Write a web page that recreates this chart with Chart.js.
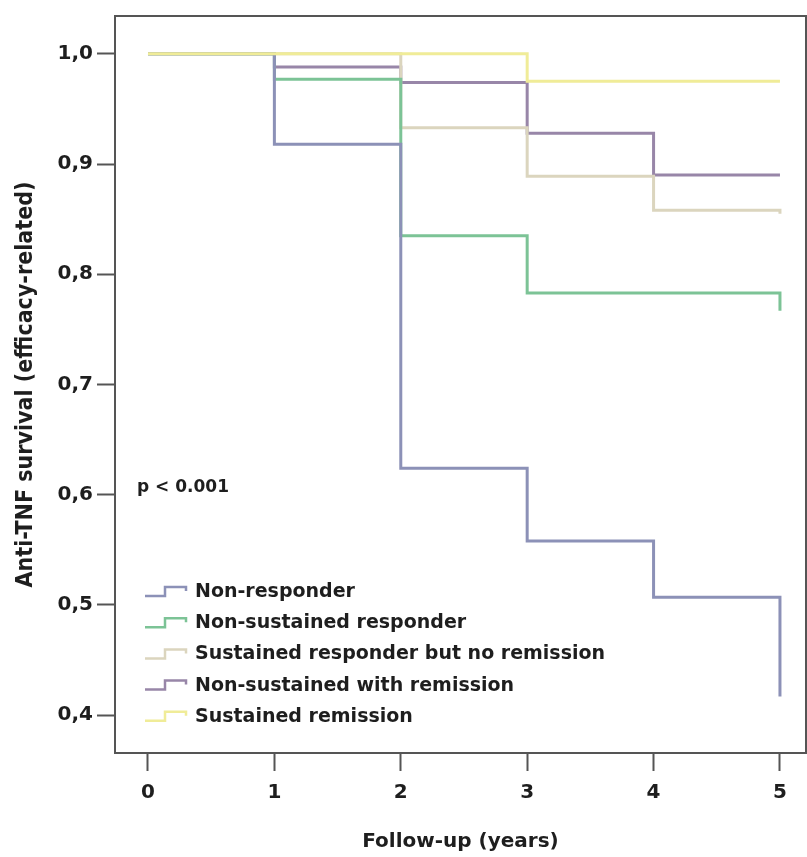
<!DOCTYPE html>
<html>
<head>
<meta charset="utf-8">
<script src="https://cdn.jsdelivr.net/npm/chart.js@4"></script>
<style>
  body { margin: 0; background: #fff; }
  #wrap { width: 807px; height: 857px; }
</style>
</head>
<body>
<div id="wrap"><canvas id="km" width="807" height="857"></canvas></div>
<script>
// follow-up years and survival after each yearly step
var years = [0, 1, 2, 3, 4, 5]
var groups = ['Non-responder', 'Non-sustained responder', 'Sustained responder but no remission', 'Non-sustained with remission', 'Sustained remission']
var nonResponder = [1, 0.918, 0.624, 0.558, 0.507, 0.417]
var nonSustResponder = [1, 0.977, 0.835, 0.783, 0.783, 0.767]
var sustNoRemission = [1, 1, 0.933, 0.889, 0.858, 0.855]
var nonSustRemission = [1, 0.988, 0.974, 0.928, 0.890, 0.890]
var sustRemission = [1, 1, 1, 0.975, 0.975, 0.975]
var yTicks = [0.4, 0.5, 0.6, 0.7, 0.8, 0.9, 1.0]
var xTicks = [0, 1, 2, 3, 4, 5]

var colores = ['#8c91b7', '#7cc396', '#dbd5be', '#9886a8', '#f0ec98']
var series = [nonResponder, nonSustResponder, sustNoRemission, nonSustRemission, sustRemission]

function pontos(vals) {
  return years.map(function(a, i) { return { x: a, y: vals[i] } })
}

var datasets = series.map(function(s, i) {
  return {
    label: groups[i],
    data: pontos(s),
    borderColor: colores[i],
    borderWidth: 3,
    pointRadius: 0,
    stepped: true,
    fill: false,
    order: i == 4 ? 0 : 1
  }
})

var txt = '#1e1e1e'
var eixo = '#555555'

// frame + legenda dentro do grafico
var extras = {
  id: 'extras',
  afterDraw: function(chart) {
    var ctx = chart.ctx
    var a = chart.chartArea
    ctx.save()
    ctx.strokeStyle = eixo
    ctx.lineWidth = 2
    ctx.beginPath()
    ctx.moveTo(a.left, a.top)
    ctx.lineTo(a.right, a.top)
    ctx.lineTo(a.right, a.bottom)
    ctx.stroke()

    ctx.fillStyle = txt
    ctx.font = 'bold 17px "DejaVu Sans"'
    ctx.textBaseline = 'middle'
    ctx.fillText('p < 0.001', 137, 488)

    ctx.font = 'bold 19px "DejaVu Sans"'
    for (var i = 0; i < groups.length; i++) {
      var cy = 592 + i * 31.2
      ctx.strokeStyle = colores[i]
      ctx.lineWidth = 2.5
      ctx.beginPath()
      ctx.moveTo(145, cy + 4)
      ctx.lineTo(165, cy + 4)
      ctx.lineTo(165, cy - 5)
      ctx.lineTo(186, cy - 5)
      ctx.lineTo(186, cy - 1)
      ctx.stroke()
      ctx.fillStyle = txt
      ctx.fillText(groups[i], 195, cy)
    }
    ctx.restore()
  }
}

var ctx1 = document.getElementById('km').getContext('2d')
var grafico = new Chart(ctx1, {
  type: 'line',
  data: { datasets: datasets },
  plugins: [extras],
  options: {
    responsive: false,
    animation: false,
    layout: { padding: { top: 12, right: 1, left: 0, bottom: 0 } },
    plugins: {
      legend: { display: false },
      tooltip: { enabled: false }
    },
    scales: {
      x: {
        type: 'linear',
        min: -0.261,
        max: 5.206,
        afterBuildTicks: function(scale) {
          scale.ticks = xTicks.map(function(v) { return { value: v } })
        },
        afterFit: function(scale) { scale.height = 104 },
        grid: { drawOnChartArea: false, drawTicks: true, tickLength: 18, tickColor: eixo, tickWidth: 2 },
        border: { display: true, color: eixo, width: 2 },
        ticks: {
          color: txt,
          padding: 10,
          maxRotation: 0,
          font: { family: 'DejaVu Sans', weight: 'bold', size: 20 },
          callback: function(v) { return String(v) }
        },
        title: {
          display: true,
          text: 'Follow-up (years)',
          color: txt,
          padding: { top: 0, bottom: 3 },
          font: { family: 'DejaVu Sans', weight: 'bold', size: 20 }
        }
      },
      y: {
        min: 0.3657,
        max: 1.0343,
        afterBuildTicks: function(scale) {
          scale.ticks = yTicks.map(function(v) { return { value: v } })
        },
        afterFit: function(scale) { scale.width = 115 },
        grid: { drawOnChartArea: false, drawTicks: true, tickLength: 18, tickColor: eixo, tickWidth: 2 },
        border: { display: true, color: eixo, width: 2 },
        ticks: {
          color: txt,
          padding: 4,
          font: { family: 'DejaVu Sans', weight: 'bold', size: 20 },
          callback: function(v) { return v.toFixed(1).replace('.', ',') }
        },
        title: {
          display: true,
          text: 'Anti-TNF survival (efficacy-related)',
          color: txt,
          padding: { top: 12, bottom: 0 },
          font: { family: 'DejaVu Sans Condensed', weight: 'bold', size: 23 }
        }
      }
    }
  }
})
</script>
</body>
</html>
